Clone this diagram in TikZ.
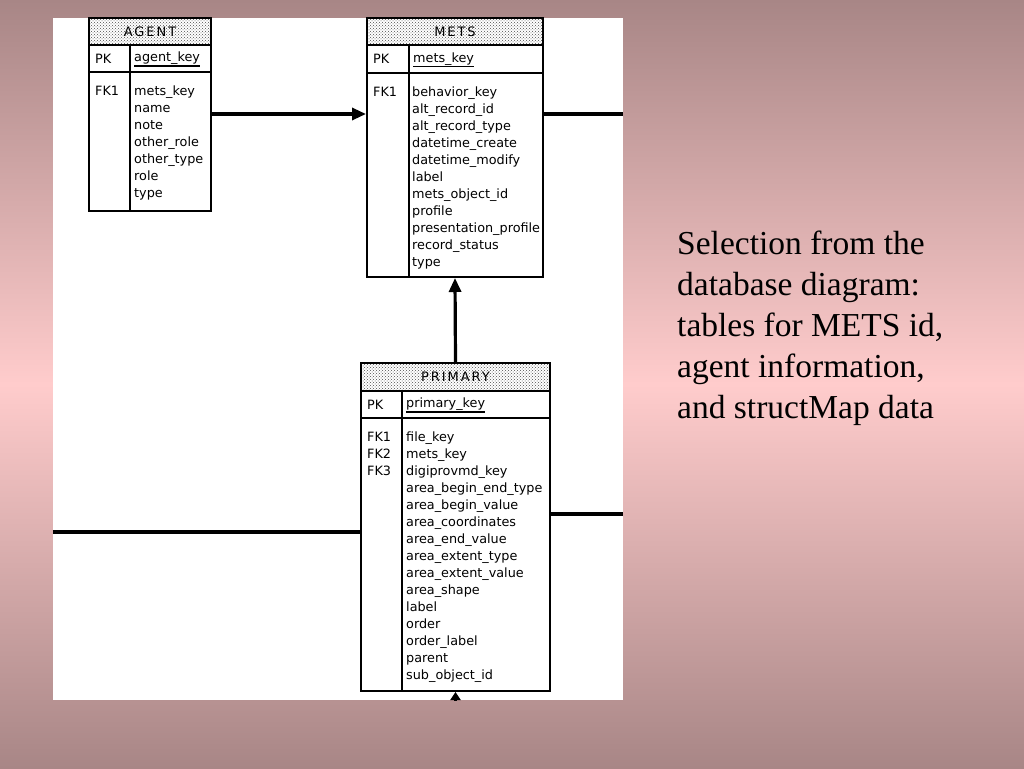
\documentclass[tikz,border=0pt]{standalone}
\usepackage{fontspec}
\setmainfont{Liberation Serif}
\newfontfamily\erfont{DejaVu Sans}
\newfontfamily\erheadfont[LetterSpace=15]{DejaVu Sans}
\usetikzlibrary{arrows.meta, patterns, fit}

\definecolor{mauve}{RGB}{168,134,134}
\definecolor{blush}{RGB}{255,204,204}

\begin{document}
\begin{tikzpicture}[x=1pt, y=-1pt,
    every node/.style={inner sep=0pt},
    tblhead/.style={draw, line width=2pt, pattern=crosshatch dots, pattern color=black!70},
    headtext/.style={font=\erheadfont\fontsize{13}{15}\selectfont},
    tblrow/.style={draw, line width=2pt},
    tbltext/.style={anchor=north west, align=left, font=\erfont\fontsize{12.8}{16.95}\selectfont},
    keytext/.style={anchor=west, font=\erfont\fontsize{12.8}{15}\selectfont},
    fklink/.style={line width=3.2pt},
    fkarrow/.style={fklink, -{Triangle[length=14pt,width=12pt]}}
  ]
  \useasboundingbox (0,0) rectangle (1024,768);
  \shade[top color=mauve, bottom color=blush] (0,0) rectangle (1024,384);
  \shade[top color=blush, bottom color=mauve] (0,384) rectangle (1024,768);
  \node[fill=white, fit={(53,18) (623,700)}] (panel) {};

  % AGENT
  \node[tblhead, fit={(89,18) (211,45)}] (agenthead) {};
  \node[headtext] at (agenthead.center) {AGENT};
  \node[tblrow, fit={(89,45) (211,72)}] (agentkey) {};
  \node[tblrow, fit={(89,72) (211,211)}] (agentbody) {};
  \draw[line width=2pt] (130,45) -- (130,211);
  \node[keytext] at (95,58.5) {PK};
  \node[keytext] (agentpk) at (134,58.5) {agent\_key};
  \draw[line width=1.6pt] ([yshift=-1pt]agentpk.south west) -- ([yshift=-1pt]agentpk.south east);
  \node[tbltext] at (95,86) {FK1};
  \node[tbltext] at (134,86) {mets\_key\\name\\note\\other\_role\\other\_type\\role\\type};

  % METS
  \node[tblhead, fit={(367,18) (543,45)}] (metshead) {};
  \node[headtext] at (metshead.center) {METS};
  \node[tblrow, fit={(367,45) (543,73)}] (metskey) {};
  \node[tblrow, fit={(367,73) (543,277)}] (metsbody) {};
  \draw[line width=2pt] (409,45) -- (409,277);
  \node[keytext] at (373,59) {PK};
  \node[keytext] (metspk) at (413,59) {mets\_key};
  \draw[line width=1.6pt] ([yshift=-1pt]metspk.south west) -- ([yshift=-1pt]metspk.south east);
  \node[tbltext] at (373,87) {FK1};
  \node[tbltext] at (412,87) {behavior\_key\\alt\_record\_id\\alt\_record\_type\\datetime\_create\\
    datetime\_modify\\label\\mets\_object\_id\\profile\\presentation\_profile\\record\_status\\type};

  % PRIMARY
  \node[tblhead, fit={(361,363) (550,391)}] (primaryhead) {};
  \node[headtext] at (primaryhead.center) {PRIMARY};
  \node[tblrow, fit={(361,391) (550,418)}] (primarykey) {};
  \node[tblrow, fit={(361,418) (550,691)}] (primarybody) {};
  \draw[line width=2pt] (402,391) -- (402,691);
  \node[keytext] at (367,404.5) {PK};
  \node[keytext] (primarypk) at (406,404.5) {primary\_key};
  \draw[line width=1.6pt] ([yshift=-1pt]primarypk.south west) -- ([yshift=-1pt]primarypk.south east);
  \node[tbltext] at (367,432) {FK1\\FK2\\FK3};
  \node[tbltext] at (406,432) {file\_key\\mets\_key\\digiprovmd\_key\\area\_begin\_end\_type\\
    area\_begin\_value\\area\_coordinates\\area\_end\_value\\area\_extent\_type\\area\_extent\_value\\
    area\_shape\\label\\order\\order\_label\\parent\\sub\_object\_id};

  % links
  \draw[fkarrow] (agentbody.east |- 0,114) -- (metsbody.west |- 0,114);
  \draw[fklink] (metsbody.east |- 0,114) -- (panel.east |- 0,114);
  \draw[fkarrow] (primaryhead.north) -- (metsbody.south);
  \draw[fklink] (panel.west |- 0,532) -- (primarybody.west |- 0,532);
  \draw[fklink] (primarybody.east |- 0,514) -- (panel.east |- 0,514);
  \draw[fklink, -{Triangle[length=8pt,width=10pt]}] (primarybody.south |- panel.south) -- (primarybody.south);

  \node[anchor=north west, align=left, font=\fontsize{33.5}{41}\selectfont] (caption) at (677,231)
    {Selection from the\\database diagram:\\tables for METS id,\\agent information,\\and structMap data};
\end{tikzpicture}
\end{document}
